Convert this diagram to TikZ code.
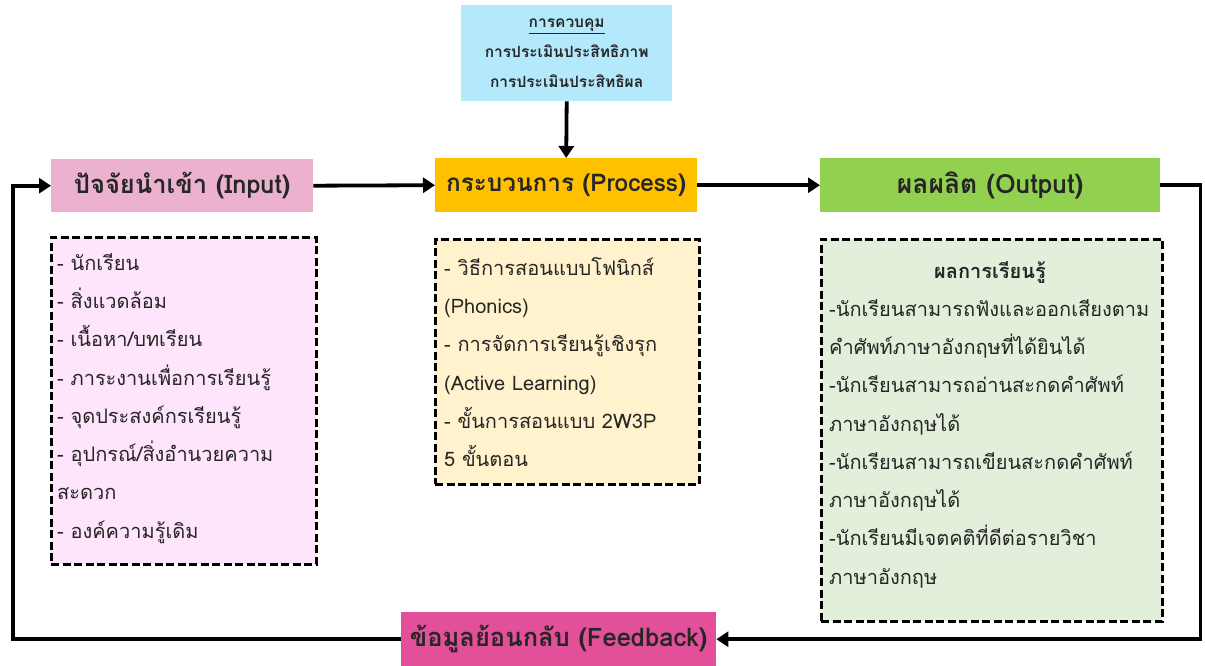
\documentclass[tikz,border=0pt]{standalone}
\usepackage{fontspec}
\newfontfamily\thaifont[Script=Thai]{Loma}
\usetikzlibrary{arrows.meta}
\definecolor{ctrlfill}{HTML}{B4E8FB}
\definecolor{infill}{HTML}{EBB1CF}
\definecolor{inlist}{HTML}{FFE5FB}
\definecolor{procfill}{HTML}{FFC000}
\definecolor{proclist}{HTML}{FFF2CC}
\definecolor{outfill}{HTML}{92D050}
\definecolor{outlist}{HTML}{E2EFDA}
\definecolor{fbfill}{HTML}{E2509A}
\definecolor{txt}{HTML}{262626}
\begin{document}
\begin{tikzpicture}[x=1pt,y=-1pt,
  hdr/.style={draw=none, anchor=north west, inner sep=0pt, text=txt,
    font=\thaifont\bfseries\fontsize{25.5}{30}\selectfont},
  listbox/.style={draw=black, line width=2.6pt, anchor=north west, inner sep=0pt,
    dash pattern=on 8pt off 3.5pt},
  listtxt/.style={anchor=north west, inner sep=0pt, align=left, text=txt,
    font=\thaifont\fontsize{20}{38.3}\selectfont},
  conn/.style={draw=black, line width=3.8pt, -{Triangle[width=15pt,length=12pt]}}]
\useasboundingbox (0,0) rectangle (1205,666);

% control box
\node[hdr, fill=ctrlfill, minimum width=211pt, minimum height=96pt,
  align=center, font=\thaifont\bfseries\fontsize{15.5}{30}\selectfont] (ctrl) at (461,5)
  {\underline{การควบคุม}\\การประเมินประสิทธิภาพ\\การประเมินประสิทธิผล};

% headers
\node[hdr, fill=infill, minimum width=262pt, minimum height=53pt] (in) at (51,159)
  {ปัจจัยนำเข้า (Input)};
\node[hdr, fill=procfill, minimum width=262pt, minimum height=54pt,
  font=\thaifont\bfseries\fontsize{24.3}{30}\selectfont] (proc) at (435,158)
  {กระบวนการ (Process)};
\node[hdr, fill=outfill, minimum width=340pt, minimum height=54pt,
  font=\thaifont\bfseries\fontsize{26.5}{30}\selectfont] (out) at (820,158)
  {ผลผลิต (Output)};
\node[hdr, fill=fbfill, minimum width=315pt, minimum height=54pt] (fb) at (401,612)
  {ข้อมูลย้อนกลับ (Feedback)};

% list boxes
\node[listbox, fill=inlist, minimum width=265pt, minimum height=327pt] (inbox) at (50,236) {};
\node[listtxt] (intxt) at (57,253)
  {- นักเรียน\\- สิ่งแวดล้อม\\- เนื้อหา/บทเรียน\\- ภาระงานเพื่อการเรียนรู้\\- จุดประสงค์กรเรียนรู้\\- อุปกรณ์/สิ่งอำนวยความ\\สะดวก\\- องค์ความรู้เดิม};

\node[listbox, fill=proclist, minimum width=264pt, minimum height=245pt] (procbox) at (434,238) {};
\node[listtxt] (proctxt) at (444,257)
  {- วิธีการสอนแบบโฟนิกส์\\(Phonics)\\- การจัดการเรียนรู้เชิงรุก\\(Active Learning)\\- ขั้นการสอนแบบ 2W3P\\5 ขั้นตอน};

\node[listbox, fill=outlist, minimum width=341pt, minimum height=382pt] (outbox) at (820,238) {};
\node[anchor=north, inner sep=0pt, text=txt, font=\thaifont\bfseries\fontsize{20}{24}\selectfont] (outtitle) at (990,261) {ผลการเรียนรู้};
\node[listtxt] (outtxt) at (829,299)
  {-นักเรียนสามารถฟังและออกเสียงตาม\\คำศัพท์ภาษาอังกฤษที่ได้ยินได้\\-นักเรียนสามารถอ่านสะกดคำศัพท์\\ภาษาอังกฤษได้\\-นักเรียนสามารถเขียนสะกดคำศัพท์\\ภาษาอังกฤษได้\\-นักเรียนมีเจตคติที่ดีต่อรายวิชา\\ภาษาอังกฤษ};

% connectors
\draw[conn] (ctrl.south) -- (proc.north);
\draw[conn] (in.east) -- (proc.west);
\draw[conn] (proc.east) -- (out.west);
\draw[conn] (out.east) -- ++(40,0) |- (fb.east);
\draw[conn] (fb.west) -- ++(-388,0) |- (in.west);
\end{tikzpicture}
\end{document}
